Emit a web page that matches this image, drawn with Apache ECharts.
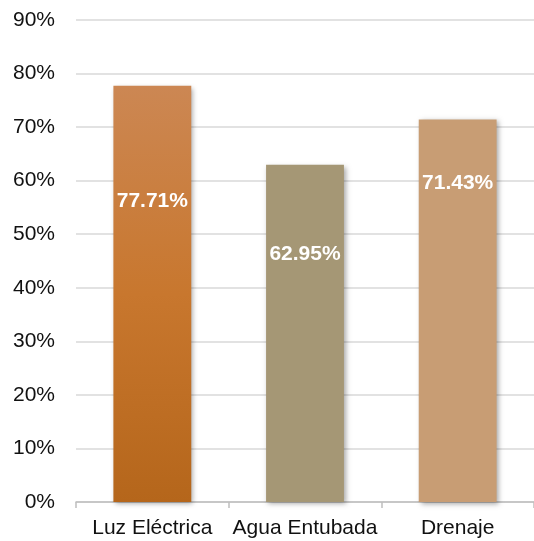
<!DOCTYPE html>
<html>
<head>
<meta charset="utf-8">
<script src="https://cdn.jsdelivr.net/npm/echarts@6/dist/echarts.min.js"></script>
<style>
  html, body { margin: 0; padding: 0; background: #fff; }
  #chart { width: 534px; height: 541px; }
</style>
</head>
<body>
<div id="chart"></div>
<script>
// Servicios en la vivienda (% de cobertura)
const categories = ['Luz Eléctrica', 'Agua Entubada', 'Drenaje'];
const values = [77.71, 62.95, 71.43];
const yTicks = { min: 0, max: 90, interval: 10 };

// Per-bar fill and label placement below the bar top
const barFills = [
  new echarts.graphic.LinearGradient(0, 0, 0, 1, [
    { offset: 0, color: '#CC8753' },
    { offset: 0.5, color: '#C8772E' },
    { offset: 1, color: '#B5661B' }
  ]),
  '#A59775',
  '#C89D74'
];
const labelDistances = [105, 79, 53];

const chart = echarts.init(document.getElementById('chart'));
chart.setOption({
  animation: false,
  grid: { left: 76, top: 20, width: 461, bottom: 39, containLabel: false },
  xAxis: {
    type: 'category',
    data: categories,
    axisLine: { show: true, lineStyle: { color: '#BFBFBF', width: 1.5 } },
    axisTick: { show: true, length: 6, lineStyle: { color: '#BFBFBF', width: 1.5 } },
    axisLabel: {
      color: '#111', fontSize: 21, fontFamily: 'Liberation Sans, Arial, sans-serif',
      margin: 16, interval: 0
    }
  },
  yAxis: {
    type: 'value',
    min: yTicks.min, max: yTicks.max, interval: yTicks.interval,
    axisLine: { show: false },
    axisTick: { show: false },
    splitLine: { lineStyle: { color: '#D9D9D9', width: 1.5 } },
    axisLabel: {
      formatter: '{value}%', color: '#111', fontSize: 21,
      fontFamily: 'Liberation Sans, Arial, sans-serif', margin: 21
    }
  },
  series: [{
    type: 'bar',
    barWidth: '51%',
    data: values.map((v, i) => ({
      value: v,
      itemStyle: { color: barFills[i] },
      label: { distance: labelDistances[i] }
    })),
    itemStyle: {
      shadowColor: 'rgba(0,0,0,0.35)', shadowBlur: 5, shadowOffsetX: 2, shadowOffsetY: 2
    },
    label: {
      show: true,
      position: 'insideTop',
      formatter: p => p.value.toFixed(2) + '%',
      color: '#fff', fontWeight: 'bold', fontSize: 21,
      fontFamily: 'Liberation Sans, Arial, sans-serif'
    }
  }]
});
</script>
</body>
</html>
